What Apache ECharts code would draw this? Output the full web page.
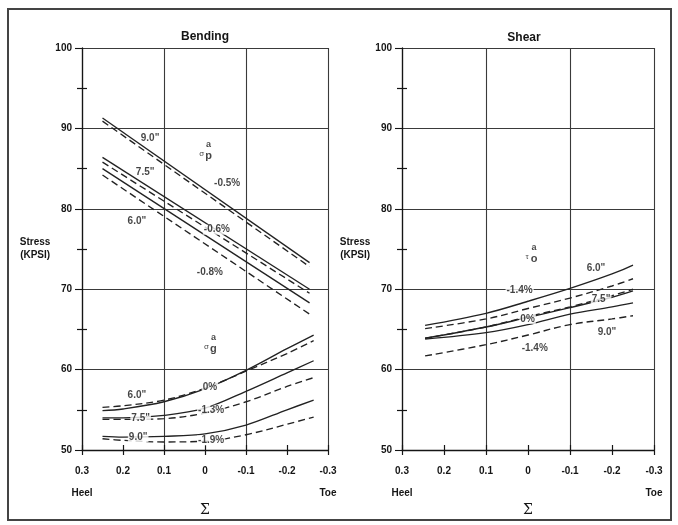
<!DOCTYPE html>
<html><head><meta charset="utf-8">
<script src="https://cdn.jsdelivr.net/npm/echarts@6/dist/echarts.min.js"></script>
<style>html,body{margin:0;padding:0;background:#fff}#c{width:678px;height:525px}</style>
</head><body><div id="c"></div>
<script>
// ---- tick labels ----
const xTickValues = [0.3, 0.2, 0.1, 0, -0.1, -0.2, -0.3];
const xTickLabels = ['0.3', '0.2', '0.1', '0', '-0.1', '-0.2', '-0.3'];
const xEndNames = ['Heel', '', '', '', '', '', 'Toe'];
const panelTitles = ['Bending', 'Shear'];

// ---- Bending, sigma_p (straight lines) ----
const bendPX = [0.25, -0.255];
const bendP90Solid = [91.3, 73.3];
const bendP90Dash = [90.9, 72.8];
const bendP75Solid = [86.4, 70.0];
const bendP75Dash = [85.8, 69.5];
const bendP60Solid = [85.0, 68.3];
const bendP60Dash = [84.2, 66.9];

// ---- Bending, sigma_g (curves) ----
const bendGX = [0.25, 0.2, 0.1, 0, -0.1, -0.2, -0.265];
const bendG60Solid = [54.9, 55.1, 56.0, 57.6, 59.9, 62.6, 64.3];
const bendG60Dash = [55.3, 55.5, 56.2, 57.7, 59.8, 62.0, 63.6];
const bendG75Solid = [54.0, 54.0, 54.3, 55.2, 57.3, 59.6, 61.1];
const bendG75Dash = [53.8, 53.8, 53.9, 54.6, 56.0, 57.9, 59.0];
const bendG90Solid = [51.7, 51.6, 51.7, 52.0, 53.1, 55.0, 56.2];
const bendG90Dash = [51.4, 51.2, 51.0, 51.1, 51.9, 53.2, 54.1];

// ---- Shear, tau_o ----
const shearX = [0.245, 0.1, 0, -0.1, -0.2, -0.25];
const shear60Solid = [65.5, 67.0, 68.5, 70.1, 71.9, 73.0];
const shear60Dash = [65.1, 66.3, 67.6, 68.9, 70.4, 71.3];
const shear75Solid = [63.9, 65.3, 66.5, 67.7, 69.0, 69.8];
const shear75Dash = [63.9, 65.3, 66.6, 67.8, 69.2, 70.0];
const shear90Solid = [63.8, 64.6, 65.6, 66.9, 67.8, 68.3];
const shear90Dash = [61.7, 63.1, 64.3, 65.6, 66.3, 66.7];

// ---- annotations [x, y, text, whiteBackground] ----
const bendLabels = [
  [0.134, 88.8, '9.0"', false],
  [0.146, 84.6, '7.5"', false],
  [-0.054, 83.2, '-0.5%', false],
  [0.166, 78.4, '6.0"', false],
  [-0.029, 77.4, '-0.6%', true],
  [-0.012, 72.1, '-0.8%', false],
  [0.166, 56.8, '6.0"', false],
  [-0.012, 57.8, '0%', true],
  [0.157, 54.0, '7.5"', true],
  [-0.015, 55.0, '-1.3%', true],
  [0.163, 51.6, '9.0"', true],
  [-0.015, 51.2, '-1.9%', true]
];
const bendSymbols = [
  [0.0, 87.3, 'p'],
  [-0.012, 63.3, 'g']
];
const shearLabels = [
  [-0.162, 72.6, '6.0"', false],
  [0.02, 69.9, '-1.4%', true],
  [0.001, 66.3, '0%', true],
  [-0.174, 68.7, '7.5"', true],
  [-0.188, 64.7, '9.0"', true],
  [-0.016, 62.7, '-1.4%', true]
];
const shearSymbols = [
  [-0.006, 74.5, 'o']
];

const FONT = '"Liberation Sans", Arial, sans-serif';
const INK = '#151515';
const LINE = '#222';
const GRIDC = '#3a3a3a';

function xLabel(v) {
  const r = Math.round(v * 10) / 10;
  const i = xTickValues.findIndex(t => Math.abs(t - r) < 1e-9);
  if (i < 0) return '';
  return xEndNames[i] ? '{v|' + xTickLabels[i] + '}\n{h|' + xEndNames[i] + '}' : '{v|' + xTickLabels[i] + '}';
}

const grids = [
  {left: 82, top: 48, width: 246, height: 402},
  {left: 402, top: 48, width: 252, height: 402}
];

const xAxes = [], yAxes = [];
grids.forEach((g, gi) => {
  xAxes.push({
    type: 'value', gridIndex: gi, position: 'bottom', min: -0.3, max: 0.3, interval: 0.1, inverse: true,
    axisLine: {show: true, onZero: false, lineStyle: {color: INK, width: 1.3}},
    axisTick: {show: true, length: 5, lineStyle: {color: INK, width: 1.2}},
    splitLine: {show: false},
    axisLabel: {formatter: xLabel, margin: 14, color: INK, fontFamily: FONT, fontWeight: 'bold', fontSize: 10,
      rich: {v: {fontFamily: FONT, fontWeight: 'bold', fontSize: 10, color: INK, lineHeight: 14},
             h: {fontFamily: FONT, fontWeight: 'bold', fontSize: 10, color: INK, lineHeight: 30}}},
    name: 'Σ', nameLocation: 'middle', nameGap: 52,
    nameTextStyle: {fontFamily: '"DejaVu Serif", serif', fontSize: 14, color: INK}
  });
  xAxes.push({
    type: 'value', gridIndex: gi, position: 'bottom', min: -0.3, max: 0.3, interval: 0.1, inverse: true,
    axisLine: {show: false, onZero: false},
    axisTick: {show: true, inside: true, length: 5, lineStyle: {color: INK, width: 1.2}},
    axisLabel: {show: false}, splitLine: {show: false}
  });
  xAxes.push({
    type: 'value', gridIndex: gi, position: 'bottom', min: -0.3, max: 0.3, interval: 0.2, inverse: true,
    axisLine: {show: false, onZero: false}, axisTick: {show: false}, axisLabel: {show: false},
    splitLine: {show: true, lineStyle: {color: GRIDC, width: 1.1}}
  });
  yAxes.push({
    type: 'value', gridIndex: gi, position: 'left', min: 50, max: 100, interval: 10,
    axisLine: {show: true, onZero: false, lineStyle: {color: INK, width: 1.3}},
    axisTick: {show: true, length: 7, lineStyle: {color: INK, width: 1.1}},
    minorTick: {show: true, splitNumber: 2, length: 5, lineStyle: {color: INK, width: 1.2}},
    splitLine: {show: true, lineStyle: {color: GRIDC, width: 1.1}},
    axisLabel: {margin: 10, color: INK, fontFamily: FONT, fontWeight: 'bold', fontSize: 10},
    name: 'Stress\n(KPSI)', nameLocation: 'middle', nameRotate: 0, nameGap: 30,
    nameTextStyle: {fontFamily: FONT, fontWeight: 'bold', fontSize: 10, color: INK, align: 'center', verticalAlign: 'middle', lineHeight: 13}
  });
  yAxes.push({
    type: 'value', gridIndex: gi, position: 'left', min: 50, max: 100, interval: 10,
    axisLine: {show: false, onZero: false},
    axisTick: {show: false, inside: true},
    minorTick: {show: true, splitNumber: 2, length: 5, lineStyle: {color: INK, width: 1.2}},
    axisLabel: {show: false}, splitLine: {show: false}
  });
});

function line(xs, ys, dashed, smooth, xi, yi) {
  return {
    type: 'line', xAxisIndex: xi, yAxisIndex: yi, silent: true, symbol: 'none', showSymbol: false,
    smooth: smooth ? 0.35 : false, z: 3,
    data: xs.map((x, i) => [x, ys[i]]),
    lineStyle: {color: LINE, width: 1.35, type: dashed ? [7, 4] : 'solid'}
  };
}

function labels(items, xi, yi) {
  return {
    type: 'scatter', xAxisIndex: xi, yAxisIndex: yi, silent: true, symbolSize: 1, z: 10,
    itemStyle: {color: 'rgba(0,0,0,0)'},
    data: items.map(d => ({
      value: [d[0], d[1]],
      label: {formatter: d[2], backgroundColor: d[3] ? '#fff' : 'transparent', padding: d[3] ? [0, 1] : 0}
    })),
    label: {show: true, position: 'inside', color: INK, fontFamily: FONT, fontWeight: 'bold', fontSize: 10}
  };
}

function symbolLabels(items, letter0, xi, yi) {
  return {
    type: 'scatter', xAxisIndex: xi, yAxisIndex: yi, silent: true, symbolSize: 1, z: 10,
    itemStyle: {color: 'rgba(0,0,0,0)'},
    data: items.map(d => ({value: [d[0], d[1]], label: {formatter: '{sp|}{a|a}\n{s|' + letter0 + '}{b|' + d[2] + '}'}})),
    label: {show: true, position: 'inside', color: INK,
      rich: {
        sp: {width: 7},
        a: {fontFamily: FONT, fontWeight: 'bold', fontSize: 9, color: INK, lineHeight: 10},
        s: {fontFamily: FONT, fontSize: 8, color: INK, width: 7, verticalAlign: 'top', lineHeight: 12},
        b: {fontFamily: FONT, fontWeight: 'bold', fontSize: 11, color: INK, lineHeight: 12}
      }}
  };
}

const series = [
  line(bendPX, bendP90Solid, false, false, 0, 0),
  line(bendPX, bendP90Dash, true, false, 0, 0),
  line(bendPX, bendP75Solid, false, false, 0, 0),
  line(bendPX, bendP75Dash, true, false, 0, 0),
  line(bendPX, bendP60Solid, false, false, 0, 0),
  line(bendPX, bendP60Dash, true, false, 0, 0),
  line(bendGX, bendG60Solid, false, true, 0, 0),
  line(bendGX, bendG60Dash, true, true, 0, 0),
  line(bendGX, bendG75Solid, false, true, 0, 0),
  line(bendGX, bendG75Dash, true, true, 0, 0),
  line(bendGX, bendG90Solid, false, true, 0, 0),
  line(bendGX, bendG90Dash, true, true, 0, 0),
  line(shearX, shear60Solid, false, true, 3, 2),
  line(shearX, shear60Dash, true, true, 3, 2),
  line(shearX, shear75Solid, false, true, 3, 2),
  line(shearX, shear75Dash, true, true, 3, 2),
  line(shearX, shear90Solid, false, true, 3, 2),
  line(shearX, shear90Dash, true, true, 3, 2),
  labels(bendLabels, 0, 0),
  labels(shearLabels, 3, 2),
  symbolLabels(bendSymbols, 'σ', 0, 0),
  symbolLabels(shearSymbols, 'τ', 3, 2)
];

const chart = echarts.init(document.getElementById('c'), null, {renderer: 'canvas'});
chart.setOption({
  backgroundColor: '#fff',
  animation: false,
  grid: grids,
  xAxis: xAxes,
  yAxis: yAxes,
  series: series,
  graphic: [
    {type: 'rect', shape: {x: 8, y: 9, width: 663, height: 511}, style: {fill: 'none', stroke: '#444', lineWidth: 2}, silent: true},
    {type: 'text', x: 205, y: 37, style: {text: panelTitles[0], fontFamily: FONT, fontWeight: 'bold', fontSize: 12, fill: INK, textAlign: 'center', textVerticalAlign: 'middle'}},
    {type: 'text', x: 524, y: 38, style: {text: panelTitles[1], fontFamily: FONT, fontWeight: 'bold', fontSize: 12, fill: INK, textAlign: 'center', textVerticalAlign: 'middle'}}
  ]
});
</script>
</body></html>
